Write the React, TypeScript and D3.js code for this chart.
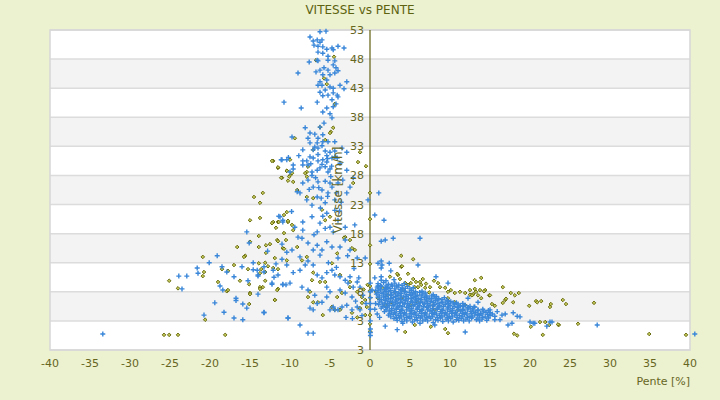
import React from "react";
import * as d3 from "d3";

const chartTitle = "VITESSE vs PENTE";
const xAxisTitle = "Pente [%]";
const yAxisTitle = "Vitesse [km/h]";
const xTickValues = [-40, -35, -30, -25, -20, -15, -10, -5, 0, 5, 10, 15, 20, 25, 30, 35, 40];
const yTickValues = [53, 48, 43, 38, 33, 28, 23, 18, 13, 8, 3, -2];
const yTickLabels = ["53", "48", "43", "38", "33", "28", "23", "18", "13", "8", "3", "3"];

// Series 1 (blue crosses): [pente %, vitesse km/h]
const blueColumnTop: [number, number][] = [
  [-6.25, 52.7], [-5.5, 52.8], [-7.5, 51.8], [-7.1, 51.1], [-6.6, 51.3], [-6.25, 50.9], [-6.0, 51.3],
  [-7.0, 50.4], [-6.5, 50.2], [-5.9, 50.1], [-5.4, 49.7], [-4.75, 49.9], [-4.6, 49.6], [-4.0, 50.2],
  [-3.25, 49.9], [-6.5, 49.2], [-5.9, 49.0], [-5.25, 48.5], [-6.6, 47.8], [-7.6, 47.5], [-6.5, 47.7],
  [-5.25, 47.8], [-4.4, 47.7], [-4.6, 47.0], [-5.75, 46.5], [-6.25, 46.1], [-6.75, 45.8], [-5.25, 46.1],
  [-4.25, 46.5], [-4.0, 46.0], [-9.0, 45.6], [-5.9, 45.3], [-5.0, 45.3], [-4.4, 45.6], [-5.4, 44.4],
  [-6.25, 44.1], [-6.5, 43.5], [-6.0, 43.5], [-5.6, 42.7], [-5.0, 43.2], [-4.6, 43.0], [-4.6, 42.2],
  [-4.1, 41.8], [-4.0, 41.5], [-5.25, 41.8], [-5.9, 41.7], [-3.75, 43.5], [-3.25, 42.9], [-2.9, 44.1],
  [-6.25, 42.3], [-10.75, 40.6], [-8.6, 39.6], [-6.6, 40.6], [-4.75, 41.0], [-5.4, 39.6], [-4.6, 39.8],
  [-4.25, 40.3], [-5.9, 38.9], [-5.0, 38.6], [-4.75, 37.9], [-5.75, 37.0], [-6.25, 36.3], [-8.1, 36.2],
  [-7.5, 35.3], [-6.9, 35.1], [-5.9, 35.0], [-6.5, 34.4], [-7.75, 34.4], [-9.75, 34.6], [-7.5, 33.6],
  [-6.6, 33.6], [-5.9, 33.8], [-5.25, 33.8], [-4.4, 33.8], [-8.4, 32.4], [-7.1, 32.4], [-6.5, 32.7],
  [-5.6, 32.2], [-5.0, 32.0], [-4.4, 32.2], [-3.5, 32.7], [-2.9, 32.0], [-11.0, 30.7], [-10.4, 30.7],
  [-8.4, 30.5], [-7.9, 30.5], [-7.1, 31.0], [-6.5, 30.5], [-5.9, 30.7], [-5.4, 30.3], [-4.75, 31.0],
  [-4.1, 31.0], [-6.25, 29.3], [-6.6, 28.9], [-5.6, 29.5], [-5.0, 29.1], [-7.75, 29.8], [-9.6, 29.8],
  [-10.0, 28.6], [-7.25, 28.6], [-5.25, 28.6], [-7.5, 31.2], [-6.5, 31.6], [-5.4, 31.4], [-4.4, 31.2],
  [-3.75, 30.1], [-2.9, 28.9], [-10.2, 31.1], [-9.6, 29.1], [-8.4, 29.8], [-7.25, 28.0],
  [-6.9, 32.9], [-6.0, 33.1], [-5.3, 30.9], [-7.4, 30.0], [-6.0, 29.9], [-4.8, 29.6], [-8.9, 31.4],
];

const blueColumnLow: [number, number][] = [
  [-9.1, 25.2], [-8.4, 26.7], [-7.75, 27.2], [-7.1, 26.0], [-6.5, 26.9], [-6.0, 25.5], [-5.25, 25.0],
  [-4.75, 26.0], [-4.4, 23.8], [-4.0, 26.7], [-3.4, 27.2], [-2.9, 25.0], [-0.25, 23.8], [-7.9, 23.8],
  [-6.6, 24.3], [-5.6, 23.3], [-8.75, 25.0], [-7.25, 22.9], [-6.1, 24.1], [-5.0, 26.7], [-2.5, 26.0],
  [-2.1, 27.6], [-6.8, 27.6], [-5.6, 27.0], [-4.9, 27.8], [-6.2, 22.4],
  [-11.25, 20.9], [-10.9, 20.0], [-9.4, 19.1], [-8.4, 20.0], [-7.25, 20.9], [-6.25, 19.8], [-5.4, 21.5],
  [-5.0, 19.1], [-4.0, 20.3], [-3.1, 19.1], [-1.9, 19.5], [-6.6, 18.3], [-4.6, 18.3], [-8.4, 18.6],
  [-9.0, 17.4], [-8.5, 17.2], [-7.75, 16.4], [-6.6, 16.0], [-6.0, 15.2], [-5.4, 16.6], [-4.75, 15.7],
  [-4.0, 13.8], [-3.1, 16.9], [-2.5, 15.2], [-10.4, 14.8], [-9.75, 15.2], [-8.75, 14.0], [-7.75, 13.3],
  [-7.1, 15.2], [-6.25, 14.3], [-3.75, 15.7], [-1.6, 13.8], [-0.6, 13.8], [-14.6, 13.0], [-14.1, 11.7],
  [-14.0, 10.9], [-12.1, 11.7], [-9.6, 11.3], [-8.75, 11.7], [-8.1, 12.6], [-7.1, 12.6], [-6.6, 10.9],
  [-6.0, 10.4], [-5.4, 11.3], [-4.75, 11.7], [-4.4, 10.9], [-3.75, 10.6], [-3.1, 10.0], [-2.5, 10.6],
  [-2.75, 9.5], [-2.1, 8.8], [-1.6, 9.7], [-1.25, 8.8], [-10.9, 9.2], [-12.25, 9.5], [-8.5, 8.8],
  [-7.75, 8.3], [-5.4, 8.8], [-5.0, 8.0], [-3.75, 8.3], [-3.1, 7.8], [-2.25, 7.1], [-10.0, 9.5],
  [-6.9, 7.4], [-6.0, 6.2], [-5.4, 7.1], [-4.6, 5.4], [-4.0, 4.9], [-3.5, 5.4], [-2.9, 5.7],
  [-2.25, 4.9], [-1.6, 5.4], [-1.25, 4.9], [-7.5, 5.2], [-7.1, 4.9], [-6.6, 6.0], [-5.0, 4.9],
  [-4.4, 4.9], [-10.25, 3.5], [-13.25, 4.4], [-8.75, 2.3], [-7.75, 0.9], [-7.1, 0.9],
  [-5.9, 21.0], [-4.4, 22.0], [-3.6, 23.4], [-7.0, 17.8], [-5.2, 13.0], [-4.2, 12.2], [-2.0, 12.0],
  [-1.4, 10.4], [-0.9, 7.4], [-0.5, 6.0], [-1.8, 6.4], [-3.0, 3.6], [-2.2, 3.4], [-1.0, 3.9],
  [-6.4, 25.9], [-5.3, 24.4], [-4.2, 25.0], [-7.6, 25.6], [-3.8, 21.9], [-5.6, 18.9], [-2.8, 14.2],
];

const blueLeftSpread: [number, number][] = [
  [-11.1, 30.7], [-11.4, 21.0], [-10.9, 20.3], [-15.4, 18.3], [-15.1, 16.4], [-11.0, 16.2], [-19.1, 14.2],
  [-20.1, 13.0], [-21.6, 12.1], [-21.5, 11.2], [-23.9, 10.7], [-22.9, 10.7], [-23.5, 8.5], [-18.5, 12.3],
  [-17.9, 11.4], [-16.0, 12.3], [-14.6, 11.8], [-17.0, 10.6], [-14.0, 10.7], [-13.25, 12.3], [-13.25, 11.4],
  [-11.5, 10.9], [-12.0, 10.5], [-11.75, 12.8], [-11.0, 13.6], [-10.4, 12.6], [-15.25, 9.9], [-12.25, 9.3],
  [-10.9, 9.3], [-10.5, 9.2], [-18.75, 9.0], [-18.4, 8.3], [-16.75, 6.9], [-16.75, 6.5], [-14.0, 7.6],
  [-15.9, 5.9], [-15.4, 5.2], [-19.4, 6.1], [-18.25, 4.5], [-13.25, 4.5], [-20.75, 4.0], [-17.0, 3.5],
  [-15.9, 3.2], [-10.25, 3.5], [-33.4, 0.75], [-12.8, 15.0], [-9.8, 21.8],
];

const blueRightSpread: [number, number][] = [
  [1.4, 13.3], [1.0, 12.9], [1.5, 12.6], [1.4, 12.1], [2.4, 12.9], [6.0, 12.6], [2.6, 11.6], [0.6, 10.4],
  [1.4, 10.6], [1.4, 10.0], [8.25, 10.6], [1.0, 9.0], [2.0, 8.6], [0.25, 8.3], [9.75, 9.5], [12.25, 6.9],
  [13.1, 5.4], [13.5, 6.2], [1.9, 2.1], [3.4, 1.5], [4.1, 2.6], [6.25, 2.6], [8.1, 2.3], [11.9, 1.1],
  [1.4, 16.7], [1.9, 16.9], [2.9, 17.2], [6.25, 17.2], [1.1, 25.0], [0.6, 21.2], [1.75, 20.3],
  [15.0, 4.9], [15.9, 4.6], [16.5, 4.0], [16.9, 4.2], [16.25, 3.2], [15.6, 3.2], [17.9, 4.4], [18.4, 3.8],
  [18.75, 3.7], [17.75, 2.6], [17.25, 2.3], [20.0, 2.8], [20.4, 2.6], [22.1, 2.1], [22.5, 2.8],
  [20.6, 2.6], [22.75, 2.8], [28.4, 2.3], [40.6, 0.75],
];

const blueRightDense: [number, number][] = [
  [1.0, 9.4], [1.7, 9.6], [2.3, 9.3], [3.1, 9.5], [3.6, 9.2], [4.3, 9.4],
  [0.9, 8.8], [1.4, 8.9], [2.2, 8.7], [2.8, 9.0], [3.5, 8.8], [4.1, 8.6], [4.7, 8.9], [5.4, 8.7],
  [0.7, 8.2], [1.3, 8.3], [2.0, 8.1], [2.6, 8.2], [3.2, 8.0], [3.9, 8.3], [4.4, 8.1], [5.2, 8.2], [5.7, 8.0], [6.5, 8.1],
  [0.8, 7.6], [1.5, 7.7], [2.1, 7.5], [2.7, 7.6], [3.4, 7.4], [3.9, 7.7], [4.6, 7.5], [5.3, 7.6], [5.9, 7.4], [6.6, 7.6], [7.1, 7.3], [7.9, 7.5],
  [1.0, 7.0], [1.7, 7.1], [2.3, 6.9], [2.9, 7.0], [3.6, 6.8], [4.2, 7.1], [4.8, 6.9], [5.5, 7.0], [6.1, 6.8], [6.8, 7.0], [7.4, 6.9], [8.1, 7.1], [8.6, 6.8], [9.3, 7.0],
  [1.2, 6.4], [1.9, 6.5], [2.5, 6.3], [3.2, 6.4], [3.8, 6.2], [4.4, 6.5], [5.1, 6.3], [5.7, 6.4], [6.3, 6.2], [7.0, 6.4], [7.6, 6.3], [8.2, 6.5], [8.9, 6.2], [9.5, 6.4], [10.1, 6.3], [10.8, 6.1],
  [1.1, 5.8], [1.8, 5.9], [2.4, 5.7], [3.0, 5.8], [3.7, 5.6], [4.3, 5.9], [4.9, 5.7], [5.6, 5.8], [6.2, 5.6], [6.8, 5.9], [7.5, 5.7], [8.1, 5.8], [8.7, 5.6], [9.4, 5.8], [10.0, 5.7], [10.6, 5.9], [11.3, 5.6], [11.9, 5.7], [12.5, 5.5],
  [1.4, 5.2], [2.0, 5.3], [2.7, 5.1], [3.3, 5.2], [3.9, 5.0], [4.6, 5.3], [5.2, 5.1], [5.9, 5.2], [6.5, 5.0], [7.1, 5.3], [7.8, 5.1], [8.4, 5.2], [9.0, 5.0], [9.7, 5.2], [10.3, 5.1], [10.9, 5.3], [11.6, 5.0], [12.2, 5.2], [12.8, 5.1], [13.5, 4.9], [14.1, 5.0],
  [1.8, 4.6], [2.4, 4.7], [3.1, 4.5], [3.7, 4.6], [4.3, 4.4], [5.0, 4.7], [5.6, 4.5], [6.2, 4.6], [6.9, 4.4], [7.5, 4.7], [8.1, 4.5], [8.8, 4.6], [9.4, 4.4], [10.0, 4.6], [10.7, 4.5], [11.3, 4.7], [11.9, 4.4], [12.6, 4.6], [13.2, 4.5], [13.8, 4.3], [14.5, 4.5], [15.0, 4.4],
  [2.3, 4.0], [2.9, 4.1], [3.6, 3.9], [4.2, 4.0], [4.9, 3.8], [5.5, 4.1], [6.1, 3.9], [6.8, 4.0], [7.4, 3.8], [8.0, 4.1], [8.7, 3.9], [9.3, 4.0], [9.9, 3.8], [10.6, 4.0], [11.2, 3.9], [11.8, 4.1], [12.5, 3.8], [13.1, 4.0], [13.7, 3.9], [14.4, 3.7], [15.0, 3.9], [15.6, 3.8],
  [3.0, 3.4], [3.7, 3.5], [4.3, 3.3], [5.0, 3.4], [5.6, 3.2], [6.3, 3.5], [6.9, 3.3], [7.6, 3.4], [8.2, 3.2], [8.8, 3.5], [9.5, 3.3], [10.1, 3.4], [10.8, 3.2], [11.4, 3.4], [12.0, 3.3], [12.7, 3.5], [13.3, 3.2], [14.0, 3.3], [14.6, 3.1],
  [4.0, 2.9], [5.3, 2.8], [6.6, 3.0], [7.9, 2.7], [9.1, 2.9], [10.4, 2.8], [11.7, 3.0],
  [0.6, 5.0], [0.9, 4.2], [1.2, 3.6], [0.7, 6.0], [2.0, 9.9], [3.0, 10.1],
  [1.3, 9.1], [2.0, 9.0], [2.7, 9.2], [3.3, 9.0], [4.0, 9.1],
  [1.1, 8.5], [1.8, 8.4], [2.5, 8.6], [3.1, 8.5], [3.8, 8.4], [4.4, 8.6], [5.0, 8.5],
  [1.0, 7.9], [1.7, 7.8], [2.3, 8.0], [3.0, 7.9], [3.6, 7.8], [4.3, 8.0], [4.9, 7.9], [5.5, 7.8], [6.2, 7.9], [6.9, 7.8],
  [1.2, 7.3], [1.9, 7.2], [2.6, 7.4], [3.2, 7.2], [3.8, 7.3], [4.5, 7.2], [5.1, 7.4], [5.7, 7.2], [6.4, 7.3], [7.0, 7.1], [7.7, 7.3], [8.3, 7.2],
  [1.4, 6.7], [2.0, 6.6], [2.6, 6.8], [3.3, 6.6], [3.9, 6.7], [4.5, 6.6], [5.2, 6.8], [5.8, 6.6], [6.4, 6.7], [7.1, 6.6], [7.7, 6.8], [8.4, 6.6], [9.0, 6.7], [9.7, 6.5],
  [1.5, 6.1], [2.2, 6.0], [2.8, 6.2], [3.4, 6.0], [4.1, 6.1], [4.7, 6.0], [5.3, 6.2], [6.0, 6.0], [6.6, 6.1], [7.2, 6.0], [7.9, 6.2], [8.5, 6.0], [9.1, 6.1], [9.8, 6.0], [10.4, 6.1], [11.0, 5.9], [11.6, 6.0],
  [1.6, 5.5], [2.2, 5.4], [2.9, 5.6], [3.5, 5.4], [4.1, 5.5], [4.8, 5.4], [5.4, 5.6], [6.0, 5.4], [6.7, 5.5], [7.3, 5.4], [7.9, 5.6], [8.6, 5.4], [9.2, 5.5], [9.8, 5.4], [10.5, 5.5], [11.1, 5.4], [11.7, 5.5], [12.3, 5.3], [13.0, 5.4],
  [2.0, 4.9], [2.7, 4.8], [3.3, 5.0], [4.0, 4.8], [4.6, 4.9], [5.2, 4.8], [5.9, 5.0], [6.5, 4.8], [7.2, 4.9], [7.8, 4.8], [8.4, 5.0], [9.1, 4.8], [9.7, 4.9], [10.3, 4.8], [11.0, 4.9], [11.6, 4.8], [12.2, 4.9], [12.9, 4.7], [13.5, 4.8], [14.2, 4.7], [14.8, 4.8],
  [2.5, 4.3], [3.2, 4.2], [3.8, 4.3], [4.5, 4.2], [5.1, 4.3], [5.7, 4.2], [6.4, 4.3], [7.0, 4.2], [7.7, 4.3], [8.3, 4.2], [8.9, 4.3], [9.6, 4.2], [10.2, 4.3], [10.8, 4.2], [11.5, 4.3], [12.1, 4.2], [12.7, 4.3], [13.4, 4.1], [14.0, 4.2], [14.7, 4.1], [15.3, 4.2],
  [2.6, 3.7], [3.3, 3.6], [3.9, 3.7], [4.6, 3.6], [5.2, 3.7], [5.8, 3.6], [6.5, 3.7], [7.1, 3.6], [7.8, 3.7], [8.4, 3.6], [9.0, 3.7], [9.7, 3.6], [10.3, 3.7], [10.9, 3.6], [11.6, 3.7], [12.2, 3.6], [12.8, 3.7], [13.5, 3.5], [14.1, 3.6], [14.8, 3.5],
  [3.4, 3.1], [4.6, 3.0], [5.9, 3.1], [7.2, 3.0], [8.5, 3.1], [9.8, 3.0], [11.1, 3.1], [12.4, 3.0], [13.7, 3.0],
];

const blueOnAxis: [number, number][] = [
  [0.05, 3.0], [0.05, 1.6], [0.05, 1.0], [0.05, 0.5], [0.05, 5.0], [0.05, 6.0], [0.05, 7.0], [0.05, 8.0], [0.05, 9.5],
];

// Series 2 (olive diamonds): [pente %, vitesse km/h]
const oliveColumn: [number, number][] = [
  [-6.75, 47.8], [-4.5, 48.4], [-5.75, 44.7], [-5.4, 43.7], [-4.4, 40.3], [-6.25, 36.3], [-4.6, 36.2],
  [-4.9, 35.5], [-9.4, 34.4], [-5.6, 34.1], [-7.1, 32.4], [-1.25, 32.0], [-12.1, 30.5], [-10.0, 30.7],
  [-11.5, 29.3], [-10.4, 28.8], [-7.9, 28.6], [-1.5, 30.3], [-0.5, 29.6], [-5.0, 35.3], [-2.1, 26.7],
  [-10.0, 28.0], [-9.75, 28.4], [-11.0, 27.6], [-9.1, 25.5], [-8.1, 28.4], [-7.9, 27.8], [-7.75, 29.5],
  [-9.6, 26.9], [-7.9, 24.3], [-7.1, 24.1], [-10.4, 21.7], [-12.1, 20.0], [-11.5, 20.0], [-10.75, 21.2],
  [-10.25, 20.0], [-9.75, 19.5], [-9.6, 18.6], [-6.0, 22.1], [-5.6, 20.3], [-5.0, 20.9], [-3.1, 17.4],
  [-2.5, 16.9], [-2.25, 15.5], [-1.9, 15.2], [-11.6, 16.9], [-10.9, 15.5], [-9.1, 15.7], [-10.4, 13.4],
  [-11.9, 13.8], [-8.5, 13.4], [-7.9, 14.0], [-7.1, 11.3], [-7.25, 10.0], [-6.25, 9.7], [-5.6, 9.7],
  [-4.75, 12.9], [-4.1, 14.6], [-3.75, 10.9], [-2.5, 9.7], [-4.1, 7.1], [-3.5, 7.8], [-2.5, 8.8],
  [-1.6, 8.0], [-1.0, 7.1], [-0.6, 6.6], [-1.0, 6.1], [-1.25, 5.2], [-0.6, 4.0], [-7.5, 8.0],
  [-7.75, 7.1], [-6.5, 6.2], [-7.1, 6.2], [-4.75, 5.4], [-4.4, 4.9], [-3.75, 4.9], [-5.9, 4.0],
  [-2.25, 4.4], [-13.1, 13.0], [-13.1, 11.4], [-13.4, 8.8], [-11.9, 6.6], [-15.0, 7.8], [-13.75, 8.8],
  [-3.25, 17.3], [-0.3, 9.2], [-0.8, 8.4], [-0.4, 5.4], [-1.6, 3.6],
];

const oliveLeft: [number, number][] = [
  [-12.25, 30.5], [-11.5, 29.4], [-10.4, 28.8], [-11.1, 27.6], [-10.25, 27.1], [-10.1, 27.8], [-13.4, 25.0],
  [-14.5, 24.3], [-13.75, 23.3], [-15.0, 20.3], [-13.75, 20.7], [-12.25, 19.8], [-11.4, 20.0], [-11.75, 19.0],
  [-10.25, 20.2], [-10.75, 18.1], [-10.5, 16.9], [-11.5, 16.7], [-13.9, 17.6], [-15.0, 16.6], [-16.6, 15.7],
  [-13.9, 15.7], [-13.0, 16.0], [-12.5, 16.2], [-13.0, 14.7], [-10.75, 15.4], [-15.6, 14.2], [-15.75, 14.0],
  [-20.9, 14.0], [-17.0, 12.6], [-15.25, 11.9], [-13.9, 12.9], [-13.6, 11.9], [-12.75, 12.4], [-12.1, 12.1],
  [-11.5, 11.9], [-18.5, 11.9], [-17.75, 11.6], [-20.75, 11.4], [-20.9, 10.7], [-25.1, 9.9], [-19.0, 9.7],
  [-16.25, 9.9], [-15.1, 9.3], [-13.1, 9.9], [-13.75, 11.2], [-24.0, 8.6], [-17.9, 8.1], [-17.75, 8.3],
  [-15.0, 7.6], [-13.75, 8.5], [-11.5, 8.5], [-11.6, 8.3], [-11.9, 6.6], [-15.1, 5.9], [-20.6, 3.2],
  [-25.75, 0.6], [-25.1, 0.6], [-24.0, 0.6], [-18.1, 0.6],
];

const oliveRight: [number, number][] = [
  [3.9, 14.2], [5.4, 13.6], [3.9, 12.3], [4.75, 11.1], [3.75, 10.2], [3.5, 10.9], [5.4, 10.2], [5.75, 9.7],
  [6.25, 9.7], [4.4, 9.5], [4.75, 9.2], [5.1, 9.5], [5.6, 8.8], [6.0, 8.8], [6.4, 9.2], [6.9, 8.7],
  [7.5, 8.8], [8.5, 9.5], [8.75, 8.8], [9.4, 8.7], [9.75, 8.0], [10.1, 8.3], [10.6, 7.8], [11.25, 8.0],
  [11.9, 7.8], [12.5, 8.3], [12.9, 7.6], [13.25, 8.0], [13.5, 7.4], [13.9, 6.9], [14.4, 8.3], [13.1, 10.0],
  [13.9, 10.4], [1.6, 8.6], [0.75, 8.0], [2.25, 7.4], [3.1, 8.0], [1.0, 6.9], [1.9, 5.7], [2.6, 6.2],
  [3.9, 6.9], [5.1, 5.7], [6.0, 6.2], [9.75, 6.9], [10.6, 6.2], [11.0, 4.9], [11.9, 5.7], [7.9, 5.7],
  [8.1, 4.9], [5.6, 2.3], [7.6, 2.0], [9.4, 1.6], [9.75, 0.9], [4.4, 1.1], [3.4, 11.1], [2.5, 10.6],
  [4.0, 12.4], [16.6, 8.8], [17.6, 7.8], [18.1, 7.4], [18.6, 7.8], [14.9, 7.4], [16.9, 6.6], [16.6, 6.1],
  [17.9, 6.2], [15.6, 5.6], [15.25, 5.9], [19.9, 5.6], [20.75, 6.4], [21.4, 6.4], [22.5, 5.4], [14.25, 8.1],
  [13.75, 8.3], [12.5, 7.5], [20.1, 2.0], [21.6, 0.6], [18.0, 0.8], [18.4, 0.5], [22.6, 5.9], [24.1, 6.6],
  [24.5, 5.9], [28.0, 6.1], [21.25, 2.8], [21.9, 2.8], [22.4, 2.3], [23.6, 2.3], [26.0, 2.5], [34.9, 0.75],
  [39.5, 0.6], [13.1, 8.5], [12.75, 7.4], [15.0, 7.4], [17.0, 6.8], [20.9, 6.2], [23.5, 2.4], [7.0, 9.4],
  [8.0, 9.9], [6.6, 10.2], [4.2, 8.4], [7.4, 7.9],
];

const oliveOnAxis: [number, number][] = [
  [0.0, 25.0], [0.0, 20.5], [0.0, 16.0], [0.0, 12.8], [0.0, 9.0], [0.0, 8.2], [0.0, 7.0], [0.0, 4.0], [0.0, 2.5], [0.0, 1.2],
];

const blueSeries = [...blueColumnTop, ...blueColumnLow, ...blueLeftSpread, ...blueRightSpread, ...blueRightDense, ...blueOnAxis];
const oliveSeries = [...oliveColumn, ...oliveLeft, ...oliveRight, ...oliveOnAxis];

const W = 720;
const H = 400;
const plot = { left: 50, right: 690, top: 30, bottom: 350 };
const FONT = "'DejaVu Sans', Verdana, sans-serif";
const TEXT = "#66661f";

export default function App() {
  const x = d3.scaleLinear().domain([-40, 40]).range([plot.left, plot.right]);
  const y = d3.scaleLinear().domain([-2, 53]).range([plot.bottom, plot.top]);
  const cross = "M-2.5,0H2.5M0,-2.5V2.5";
  const diamond = "M0,-1.8L1.8,0L0,1.8L-1.8,0Z";

  return (
    <svg width={W} height={H} style={{ position: "absolute", left: 0, top: 0 }}>
      <rect x={0} y={0} width={W} height={H} fill="#ecf1cf" />
      <rect x={plot.left} y={plot.top} width={plot.right - plot.left} height={plot.bottom - plot.top} fill="#ffffff" />
      {yTickValues.slice(0, -1).map((v, i) => (
        i % 2 === 1 ? (
          <rect key={"b" + i} x={plot.left} y={y(v)} width={plot.right - plot.left} height={y(yTickValues[i + 1]) - y(v)} fill="#f3f3f3" />
        ) : null
      ))}
      {yTickValues.map((v, i) => (
        <line key={"g" + i} x1={plot.left} x2={plot.right} y1={y(v)} y2={y(v)} stroke="#dcdcdc" strokeWidth={1.5} />
      ))}
      <rect x={plot.left} y={plot.top} width={plot.right - plot.left} height={plot.bottom - plot.top} fill="none" stroke="#d6d6d6" strokeWidth={1.5} />
      <line x1={x(0)} x2={x(0)} y1={plot.top} y2={plot.bottom} stroke="#5f5f10" strokeWidth={1.2} />
      <g>
        {oliveSeries.map((d, i) => (
          <path key={"o" + i} d={diamond} transform={`translate(${x(d[0])},${y(d[1])})`} fill="#c3c85a" stroke="#5d6000" strokeWidth={0.9} />
        ))}
      </g>
      <g>
        {blueSeries.map((d, i) => (
          <path key={"p" + i} d={cross} transform={`translate(${x(d[0])},${y(d[1])})`} stroke="#3a87d9" strokeWidth={1.4} fill="none" />
        ))}
      </g>
      {yTickValues.map((v, i) => (
        <text key={"yl" + i} x={x(0) - 6} y={y(v)} dy="0.36em" textAnchor="end" fontFamily={FONT} fontSize={11} fill={TEXT}>
          {yTickLabels[i]}
        </text>
      ))}
      {xTickValues.map((v) => (
        <text key={"xl" + v} x={x(v)} y={367} textAnchor="middle" fontFamily={FONT} fontSize={11} fill={TEXT}>
          {v}
        </text>
      ))}
      <text x={360} y={14} textAnchor="middle" fontFamily={FONT} fontSize={12} fill="#5d6310">{chartTitle}</text>
      <text x={690} y={385} textAnchor="end" fontFamily={FONT} fontSize={11} fill={TEXT}>{xAxisTitle}</text>
      <text transform={`translate(342,190) rotate(-90)`} textAnchor="middle" fontFamily={FONT} fontSize={12} fill={TEXT}>{yAxisTitle}</text>
    </svg>
  );
}
